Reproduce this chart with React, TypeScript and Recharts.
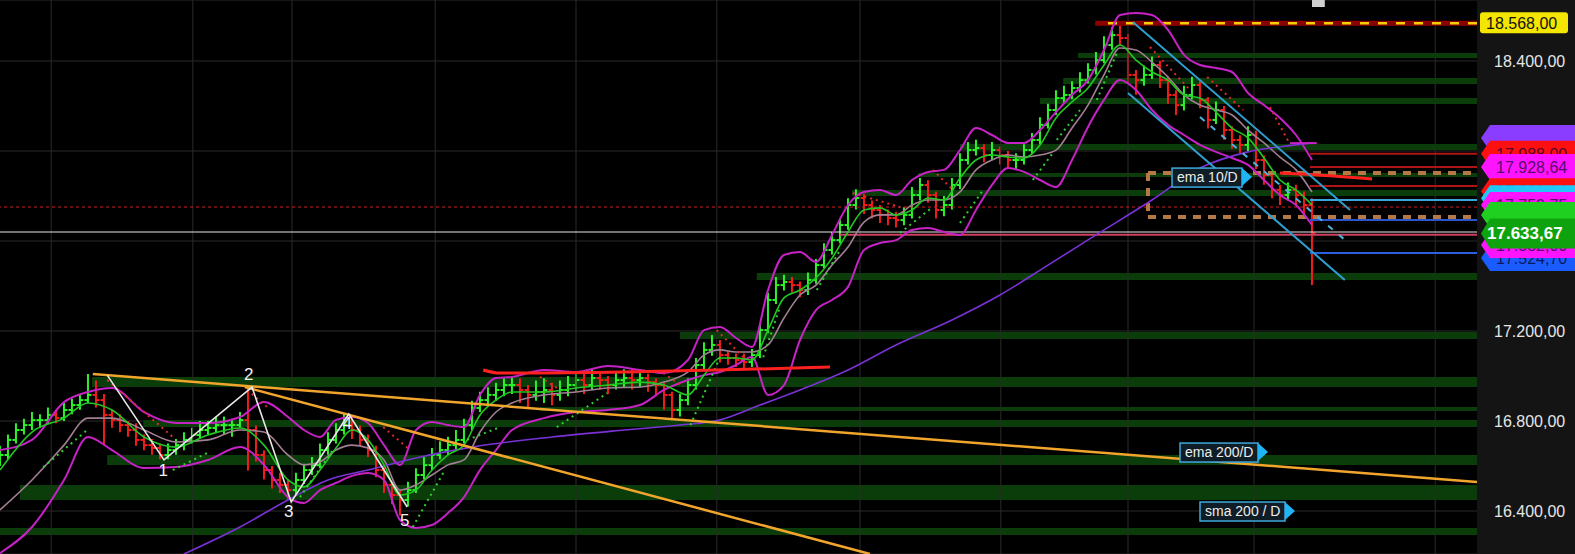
import {
  ComposedChart,
  Bar,
  Line,
  XAxis,
  YAxis,
  CartesianGrid,
  ReferenceLine,
  ReferenceArea,
  ReferenceDot,
} from 'recharts'

// x unit = one daily bar slot
const XMAX = 184.625
const Y_MIN = 16209
const Y_MAX = 18671

const yTicks = [16400, 16800, 17200, 17600, 18000, 18400]
const yLabelTicks = [16400, 16800, 17200, 18400]
const gridX = [6.4, 24.1, 36.5, 54.4, 72, 89.6, 107.5, 125.1, 141, 156.75, 179.4]

const firstOpen = 16620
const closes = [
  16649, 16716, 16760, 16782, 16804, 16804, 16827, 16813, 16849, 16871,
  16893, 16916, 16893, 16827, 16804, 16782, 16760, 16716, 16693, 16680,
  16649, 16671, 16693, 16716, 16738, 16760, 16769, 16782, 16782, 16782,
  16804, 16760, 16649, 16582, 16538, 16516, 16493, 16538, 16582, 16604,
  16671, 16716, 16760, 16782, 16760, 16716, 16671, 16582, 16516, 16471,
  16449, 16493, 16560, 16604, 16649, 16671, 16693, 16716, 16782, 16858,
  16893, 16916, 16938, 16960, 16960, 16938, 16916, 16929, 16938, 16916,
  16938, 16960, 16982, 16960, 16991, 16982, 16960, 16982, 16991, 16982,
  16991, 16973, 16960, 16916, 16849, 16893, 16960, 17049, 17116, 17138,
  17093, 17080, 17071, 17062, 17093, 17204, 17338, 17404, 17418, 17404,
  17382, 17427, 17493, 17560, 17604, 17671, 17760, 17791, 17760, 17738,
  17716, 17702, 17693, 17716, 17804, 17849, 17804, 17738, 17760, 17849,
  17960, 18004, 18013, 17982, 18004, 17982, 17960, 17960, 18004, 18049,
  18116, 18182, 18235, 18249, 18280, 18315, 18360, 18404, 18471, 18515,
  18502, 18338, 18315, 18338, 18382, 18315, 18249, 18204, 18249, 18293,
  18227, 18138, 18182, 18093, 18049, 18027, 18071, 17960, 17893, 17827,
  17804, 17827, 17804, 17760, 17633.67,
]
const highs = [
  16690, 16740, 16790, 16810, 16840, 16830, 16860, 16850, 16880, 16900,
  16920, 17009, 16980, 16920, 16850, 16830, 16800, 16790, 16740, 16720,
  16700, 16700, 16720, 16750, 16770, 16800, 16800, 16820, 16820, 16810,
  16840, 16960, 16780, 16670, 16600, 16570, 16540, 16570, 16610, 16640,
  16700, 16750, 16790, 16830, 16810, 16780, 16740, 16690, 16600, 16530,
  16490, 16530, 16590, 16640, 16680, 16710, 16730, 16760, 16810, 16890,
  16930, 16950, 16970, 16990, 17000, 16990, 16960, 16980, 16990, 16970,
  16980, 17000, 17020, 17010, 17030, 17020, 17000, 17020, 17030, 17030,
  17030, 17010, 16990, 16970, 16930, 16920, 16990, 17080, 17150, 17182,
  17160, 17110, 17100, 17100, 17120, 17230, 17370, 17440, 17450, 17440,
  17420, 17460, 17520, 17590, 17640, 17700, 17790, 17830, 17810, 17780,
  17760, 17740, 17730, 17750, 17840, 17880, 17870, 17820, 17800, 17880,
  17990, 18040, 18050, 18030, 18040, 18020, 18000, 17990, 18030, 18080,
  18150, 18210, 18270, 18290, 18310, 18350, 18390, 18440, 18510, 18550,
  18568, 18520, 18360, 18380, 18420, 18400, 18330, 18270, 18290, 18330,
  18310, 18240, 18220, 18200, 18110, 18070, 18110, 18090, 17980, 17910,
  17850, 17860, 17850, 17820, 17790,
]
const lows = [
  16600, 16630, 16700, 16740, 16760, 16770, 16790, 16790, 16800, 16830,
  16850, 16880, 16860, 16693, 16770, 16750, 16730, 16690, 16670, 16650,
  16630, 16630, 16650, 16670, 16700, 16720, 16740, 16750, 16740, 16730,
  16770, 16580, 16620, 16540, 16500, 16480, 16449, 16470, 16520, 16560,
  16590, 16650, 16700, 16740, 16720, 16690, 16640, 16550, 16480, 16430,
  16380, 16420, 16480, 16540, 16580, 16630, 16650, 16670, 16700, 16760,
  16840, 16870, 16890, 16910, 16920, 16880, 16860, 16890, 16880, 16870,
  16890, 16910, 16930, 16920, 16940, 16940, 16920, 16940, 16950, 16940,
  16950, 16930, 16910, 16850, 16804, 16820, 16870, 16940, 17030, 17090,
  17060, 17050, 17040, 17030, 17040, 17080, 17190, 17320, 17380, 17370,
  17350, 17360, 17410, 17480, 17540, 17590, 17650, 17740, 17720, 17700,
  17680, 17670, 17660, 17670, 17700, 17780, 17770, 17700, 17710, 17740,
  17830, 17940, 17980, 17950, 17960, 17940, 17920, 17920, 17940, 17990,
  18030, 18100, 18160, 18210, 18230, 18260, 18300, 18340, 18390, 18450,
  18470, 18300, 18250, 18290, 18320, 18280, 18210, 18160, 18180, 18230,
  18190, 18100, 18120, 18050, 18010, 17990, 18000, 17920, 17850, 17790,
  17760, 17780, 17760, 17720, 17404,
]

// Bollinger bands + ema 10, sampled at these bar slots
const bandIdx = [
  0, 4, 8, 11, 14, 18, 22, 26, 30, 33, 36, 38, 40, 42, 44, 46, 48, 50, 52, 54,
  56, 58, 60, 62, 64, 68, 72, 76, 80, 83, 86, 88, 90, 92, 94, 96, 98, 100, 102, 104,
  106, 108, 110, 112, 114, 116, 118, 120, 122, 124, 126, 128, 130, 132, 134, 136, 138, 140, 142, 144,
  146, 148, 150, 152, 154, 156, 158, 160, 162, 164,
]
const bandUpper = [
  16671, 16716, 16884, 16929, 16947, 16840, 16791, 16791, 16818, 16884,
  16818, 16760, 16729, 16805, 16818, 16791, 16693, 16605, 16760, 16796,
  16782, 16773, 16916, 16991, 16996, 17027, 17018, 17044, 17027, 17013,
  17071, 17204, 17218, 17169, 17129, 17382, 17538, 17551, 17507, 17627,
  17760, 17818, 17827, 17804, 17871, 17907, 17916, 18004, 18102, 18071,
  18036, 18036, 18093, 18173, 18249, 18315, 18449, 18604, 18613, 18604,
  18538, 18427, 18382, 18369, 18351, 18258, 18204, 18147, 18071, 17960,
]
const bandMid = [
  16405, 16538, 16693, 16813, 16813, 16760, 16707, 16716, 16760, 16751,
  16649, 16605, 16618, 16671, 16693, 16680, 16627, 16493, 16516, 16560,
  16605, 16627, 16751, 16840, 16880, 16916, 16929, 16947, 16951, 16973,
  17018, 17093, 17116, 17107, 17107, 17138, 17258, 17360, 17404, 17493,
  17573, 17684, 17716, 17716, 17760, 17782, 17782, 17818, 17916, 17960,
  17982, 17973, 17982, 18004, 18102, 18204, 18338, 18458, 18449, 18395,
  18329, 18249, 18204, 18182, 18160, 18093, 18036, 17973, 17916, 17818,
]
const bandLower = [
  16213, 16329, 16538, 16729, 16671, 16591, 16596, 16627, 16684, 16605,
  16462, 16436, 16493, 16525, 16556, 16569, 16538, 16360, 16325, 16338,
  16391, 16462, 16582, 16671, 16760, 16813, 16840, 16849, 16871, 16938,
  16982, 17004, 17018, 17049, 17084, 16916, 16960, 17160, 17293, 17338,
  17396, 17560, 17591, 17604, 17649, 17658, 17640, 17627, 17738, 17849,
  17924, 17907, 17871, 17840, 17960, 18107, 18227, 18315, 18271, 18182,
  18116, 18071, 18027, 17996, 17969, 17938, 17871, 17804, 17760, 17671,
]
const ema10 = [
  16582, 16751, 16813, 16880, 16849, 16729, 16684, 16738, 16769, 16693,
  16538, 16507, 16582, 16680, 16760, 16716, 16605, 16471, 16493, 16582,
  16649, 16693, 16827, 16893, 16929, 16929, 16947, 16960, 16973, 16960,
  16916, 17004, 17080, 17080, 17071, 17204, 17347, 17382, 17436, 17524,
  17640, 17738, 17747, 17716, 17738, 17791, 17782, 17880, 17960, 17982,
  17973, 17969, 18027, 18147, 18218, 18280, 18382, 18471, 18404, 18351,
  18315, 18249, 18235, 18173, 18102, 18058, 17969, 17871, 17827, 17760,
]

const smaIdx = [23, 30, 36, 41, 46, 52, 59, 69, 78, 85, 90, 95, 100, 106, 112, 119, 125, 131, 137, 144, 150, 156, 162, 164]
const sma200 = [16209, 16329, 16449, 16538, 16582, 16636, 16684, 16729, 16760, 16782, 16805, 16871, 16938, 17027, 17138, 17249, 17360, 17493, 17627, 17782, 17924, 17996, 18027, 18036]

const waveIdx = [13.4, 20.5, 31.5, 36.4, 43.6, 50.9]
const wavePrice = [17004, 16627, 16951, 16440, 16831, 16418]
const waveLabels = [
  { n: '1', x: 20.4, y: 16582 },
  { n: '2', x: 31.1, y: 17009 },
  { n: '3', x: 36.1, y: 16400 },
  { n: '4', x: 43.4, y: 16791 },
  { n: '5', x: 50.6, y: 16360 },
]

const trendA = [{ x: 11.6, y: 17009 }, { x: XMAX, y: 16529 }]
const trendB = [{ x: 30.6, y: 16951 }, { x: 108.75, y: 16209 }]
const redLineA = [
  { x: 60.4, y: 17027 }, { x: 62.5, y: 17013 }, { x: 65, y: 17013 }, { x: 103.75, y: 17040 },
]
const redLineB = [{ x: 160, y: 17902 }, { x: 162.5, y: 17898 }, { x: 171.5, y: 17876 }]
const channelUp = [{ x: 141.6, y: 18573 }, { x: 168.75, y: 17738 }]
const channelDown = [{ x: 141, y: 18258 }, { x: 168.1, y: 17427 }]
const channelMid = [{ x: 150, y: 18151 }, { x: 168.4, y: 17596 }]

const sarGreen = [
  [5.4, 16595, 10.9, 16760], [21.6, 16582, 25.9, 16658], [37.5, 16462, 41.6, 16671],
  [51.6, 16329, 55.4, 16569], [58.4, 16716, 62.5, 16773], [69.6, 16773, 75.9, 16924],
  [86.3, 16782, 90, 17084], [95.4, 17084, 97.5, 17307], [102.1, 17382, 105, 17560],
  [112.5, 17636, 116.6, 17751], [120, 17680, 122.9, 17827], [129.1, 17871, 131.6, 17991],
  [132.1, 18049, 135, 18182], [137.1, 18227, 139.6, 18435],
]
const sarRed = [
  [13.4, 16982, 21.6, 16729], [30.9, 16938, 33.4, 16862], [47.9, 16773, 51.25, 16671],
  [67.5, 16996, 70, 16938], [82.9, 17013, 85.4, 16951], [89.6, 17204, 92.9, 17084],
  [106.6, 17813, 112.5, 17751], [116.6, 17916, 119.1, 17827], [143.75, 18462, 148.75, 18271],
  [150.9, 18329, 155.4, 18182], [158.75, 18195, 161.25, 18029],
]

// support / resistance zones: [from slot, low, high]
const zones = [
  [134.75, 18413, 18435], [132.9, 18298, 18324], [130, 18209, 18236], [120, 18004, 18031],
  [114.75, 17884, 17902], [106.5, 17800, 17827], [94.6, 17427, 17458], [85, 17164, 17196],
  [11.5, 16951, 16996], [67.5, 16844, 16862], [17.9, 16773, 16804], [13.4, 16604, 16649],
  [2.5, 16449, 16516], [0, 16293, 16325],
]

const rightLevels = [
  { v: 17988, c: '#b01414' }, { v: 17929, c: '#b01414' }, { v: 17844, c: '#b01414' },
  { v: 17782, c: '#3aa6d6' }, { v: 17693, c: '#2b55c8' }, { v: 17547, c: '#2b60e0' },
]
const highLevel = 18568
const boxTop = 17902
const boxBottom = 17707
const lastPrice = 17640
const dottedLevel = 17751

// price tags on the axis, painted in this order; hidden ones carry no text
const tags = [
  { v: 18058, fill: '#8a3cff', color: '#3a0a5a', h: 26, hidden: true },
  { v: 17988, fill: '#ff1010', color: '#5a0030', h: 26 },
  { v: 17928.64, fill: '#ff14ff', color: '#5a0a6a', h: 26 },
  { v: 17821.01, fill: '#ff1010', color: '#5a0030', h: 26 },
  { v: 17790, fill: '#20c8f8', color: '#0a3a5a', h: 26, hidden: true },
  { v: 17759.75, fill: '#ff14ff', color: '#5a0a6a', h: 26 },
  { v: 17715, fill: '#20d020', color: '#0a3a0a', h: 26, hidden: true },
  { v: 17524.7, fill: '#1a5cff', color: '#0a1a5a', h: 26 },
  { v: 17582, fill: '#ff14ff', color: '#5a0a6a', h: 26 },
  { v: 17633.67, fill: '#0ea30e', color: '#ffffff', h: 30, bold: true },
]

const boxLabels = [
  { text: 'ema 10/D', x: 146.5, y: 17884, w: 70 },
  { text: 'ema 200/D', x: 147.5, y: 16662, w: 78 },
  { text: 'sma 200 / D', x: 150, y: 16400, w: 85 },
]

const bars = closes.map((c, i) => ({
  x: i,
  open: i === 0 ? firstOpen : closes[i - 1],
  close: c,
  high: highs[i],
  low: lows[i],
}))
const bandRows = bandIdx.map((x, i) => ({
  x,
  upper: bandUpper[i],
  mid: bandMid[i],
  lower: bandLower[i],
  ema: ema10[i],
}))
const smaRows = smaIdx.map((x, i) => ({ x, y: sma200[i] }))
const waveRows = waveIdx.map((x, i) => ({ x, y: wavePrice[i] }))

const fmt = (v: number) => {
  const [i, d] = v.toFixed(2).split('.')
  return i.replace(/\B(?=(\d{3})+(?!\d))/g, '.') + ',' + d
}

function OhlcBar(props: any) {
  const { x, y, width, height, payload } = props
  if (x == null || !payload) return <g />
  const top = Math.min(y, y + height)
  const h = Math.abs(height)
  const span = payload.high - payload.low || 1
  const at = (v: number) => top + ((payload.high - v) / span) * h
  const cx = x + width / 2
  const col = payload.close >= payload.open ? '#2cf22c' : '#f21c1c'
  return (
    <g stroke={col} strokeWidth={2}>
      <line x1={cx} x2={cx} y1={top} y2={top + h} />
      <line x1={cx - 3.5} x2={cx} y1={at(payload.open)} y2={at(payload.open)} />
      <line x1={cx} x2={cx + 3.5} y1={at(payload.close)} y2={at(payload.close)} />
    </g>
  )
}

function PriceTick(props: any) {
  const { x, y, payload } = props
  if (!yLabelTicks.includes(payload.value)) return <g />
  return (
    <text x={x + 9} y={y} dy={6} fill="#e6e6e6" fontSize={16}>
      {fmt(payload.value)}
    </text>
  )
}

function tagShape(t: (typeof tags)[number]) {
  return (p: any) => {
    const { cx, cy } = p
    const hh = t.h / 2
    const pts = `${cx + 4},${cy} ${cx + 13},${cy - hh} ${cx + 98},${cy - hh} ${cx + 98},${cy + hh} ${cx + 13},${cy + hh}`
    return (
      <g>
        <polygon points={pts} fill={t.fill} />
        {!t.hidden && (
          <text
            x={cx + (t.bold ? 10 : 19)}
            y={cy + 6}
            fill={t.color}
            fontSize={t.bold ? 17 : 16}
            fontWeight={t.bold ? 'bold' : 'normal'}
          >
            {fmt(t.v)}
          </text>
        )}
      </g>
    )
  }
}

function yellowTag(p: any) {
  const { cx, cy } = p
  return (
    <g>
      <rect x={cx + 3} y={cy - 11} width={88} height={21} rx={3} fill="#f4e600" />
      <text x={cx + 9} y={cy + 6} fill="#111" fontSize={16}>
        {fmt(highLevel)}
      </text>
    </g>
  )
}

function boxShape(b: (typeof boxLabels)[number]) {
  return (p: any) => {
    const { cx, cy } = p
    return (
      <g>
        <rect x={cx} y={cy - 9} width={b.w} height={19} fill="#0f1d27" stroke="#3fa9dc" strokeWidth={1.5} />
        <polygon points={`${cx + b.w},${cy - 9} ${cx + b.w + 10},${cy} ${cx + b.w},${cy + 9}`} fill="#1fb4f4" />
        <text x={cx + 5} y={cy + 5} fill="#ececec" fontSize={14}>
          {b.text}
        </text>
      </g>
    )
  }
}

function waveShape(n: string) {
  return (p: any) => (
    <text x={p.cx} y={p.cy} dy={6} textAnchor="middle" fill="#f2f2f2" fontSize={17}>
      {n}
    </text>
  )
}

export default function App() {
  return (
    <div
      style={{
        position: 'absolute',
        left: 0,
        top: 0,
        width: 1575,
        height: 554,
        background: '#141414',
        fontFamily: '"Liberation Sans", Arial, sans-serif',
      }}
    >
      <ComposedChart width={1575} height={554} data={bars} margin={{ top: 0, right: 0, bottom: 0, left: 0 }}>
        <CartesianGrid fill="#000" stroke="#2a2a2a" vertical={false} />
        <XAxis dataKey="x" type="number" domain={[0, XMAX]} hide allowDataOverflow />
        <YAxis
          orientation="right"
          type="number"
          domain={[Y_MIN, Y_MAX]}
          ticks={yTicks}
          width={98}
          axisLine={false}
          tickLine={false}
          tick={<PriceTick />}
          allowDataOverflow
        />

        {zones.map(([x1, lo, hi], i) => (
          <ReferenceArea key={'z' + i} x1={x1} x2={XMAX} y1={lo} y2={hi} fill="#0b3d0b" fillOpacity={1} stroke="none" />
        ))}
        {gridX.map((x) => (
          <ReferenceLine key={'gx' + x} x={x} stroke="#2a2a2a" strokeWidth={1} />
        ))}
        <ReferenceArea x1={164} x2={165.6} y1={18640} y2={Y_MAX} fill="#cfcfcf" fillOpacity={1} stroke="none" />

        <ReferenceLine y={dottedLevel} stroke="#d02020" strokeDasharray="3 3" />
        <ReferenceLine y={lastPrice} stroke="#e6e6e6" strokeWidth={1.2} />
        <ReferenceLine segment={[{ x: 105, y: 17628 }, { x: XMAX, y: 17628 }]} stroke="#d04060" strokeWidth={2} />
        <ReferenceLine segment={[{ x: 136.9, y: highLevel }, { x: XMAX, y: highLevel }]} stroke="#8d0000" strokeWidth={5} />
        <ReferenceLine
          segment={[{ x: 138.5, y: highLevel }, { x: XMAX, y: highLevel }]}
          stroke="#f2d000"
          strokeWidth={2.5}
          strokeDasharray="9 9"
        />
        {rightLevels.map((l) => (
          <ReferenceLine key={'rl' + l.v} segment={[{ x: 163.75, y: l.v }, { x: XMAX, y: l.v }]} stroke={l.c} strokeWidth={2} />
        ))}
        {[boxTop, boxBottom].map((v) => (
          <ReferenceLine
            key={'bx' + v}
            segment={[{ x: 143.5, y: v }, { x: XMAX, y: v }]}
            stroke="#b37a45"
            strokeWidth={4}
            strokeDasharray="8 7"
          />
        ))}
        <ReferenceLine
          segment={[{ x: 143.5, y: boxTop }, { x: 143.5, y: boxBottom }]}
          stroke="#b37a45"
          strokeWidth={4}
          strokeDasharray="8 7"
        />

        <Line data={bandRows} dataKey="upper" type="monotone" stroke="#c622c6" strokeWidth={2} dot={false} activeDot={false} isAnimationActive={false} />
        <Line data={bandRows} dataKey="lower" type="monotone" stroke="#c622c6" strokeWidth={2} dot={false} activeDot={false} isAnimationActive={false} />
        <Line data={bandRows} dataKey="mid" type="monotone" stroke="#a37f94" strokeWidth={1.6} dot={false} activeDot={false} isAnimationActive={false} />
        <Line data={smaRows} dataKey="y" type="monotone" stroke="#7a32d6" strokeWidth={1.6} dot={false} activeDot={false} isAnimationActive={false} />

        <Bar dataKey={(d: any) => [d.low, d.high]} barSize={3} shape={<OhlcBar />} isAnimationActive={false} />

        <Line data={bandRows} dataKey="ema" type="monotone" stroke="#22c822" strokeWidth={1.6} dot={false} activeDot={false} isAnimationActive={false} />

        {sarGreen.map(([x1, y1, x2, y2], i) => (
          <ReferenceLine key={'sg' + i} segment={[{ x: x1, y: y1 }, { x: x2, y: y2 }]} stroke="#2fd02f" strokeWidth={2} strokeDasharray="2 4" />
        ))}
        {sarRed.map(([x1, y1, x2, y2], i) => (
          <ReferenceLine key={'sr' + i} segment={[{ x: x1, y: y1 }, { x: x2, y: y2 }]} stroke="#e02a2a" strokeWidth={2} strokeDasharray="2 4" />
        ))}

        <ReferenceLine segment={trendA} stroke="#f2a52c" strokeWidth={2.5} />
        <ReferenceLine segment={trendB} stroke="#f2a52c" strokeWidth={2.5} />
        <Line data={redLineA} dataKey="y" type="monotone" stroke="#ff2020" strokeWidth={3} dot={false} activeDot={false} isAnimationActive={false} />
        <Line data={redLineB} dataKey="y" type="monotone" stroke="#ff2020" strokeWidth={3} dot={false} activeDot={false} isAnimationActive={false} />
        <ReferenceLine segment={channelUp} stroke="#2f9fcf" strokeWidth={2} />
        <ReferenceLine segment={channelDown} stroke="#2f9fcf" strokeWidth={2} />
        <ReferenceLine segment={channelMid} stroke="#4fb4e0" strokeWidth={2} strokeDasharray="6 8" />
        <ReferenceLine segment={[{ x: 161.25, y: 18035 }, { x: 164.6, y: 18035 }]} stroke="#c622c6" strokeWidth={2} />

        <Line data={waveRows} dataKey="y" type="linear" stroke="#e8e8e8" strokeWidth={1.6} dot={false} activeDot={false} isAnimationActive={false} />
        {waveLabels.map((w) => (
          <ReferenceDot key={'w' + w.n} x={w.x} y={w.y} r={0} ifOverflow="visible" shape={waveShape(w.n)} />
        ))}
        {boxLabels.map((b) => (
          <ReferenceDot key={b.text} x={b.x} y={b.y} r={0} ifOverflow="visible" shape={boxShape(b)} />
        ))}

        {tags.map((t) => (
          <ReferenceDot key={'t' + t.v} x={XMAX} y={t.v} r={0} ifOverflow="visible" shape={tagShape(t)} />
        ))}
        <ReferenceDot x={XMAX} y={highLevel} r={0} ifOverflow="visible" shape={yellowTag} />
      </ComposedChart>
    </div>
  )
}
